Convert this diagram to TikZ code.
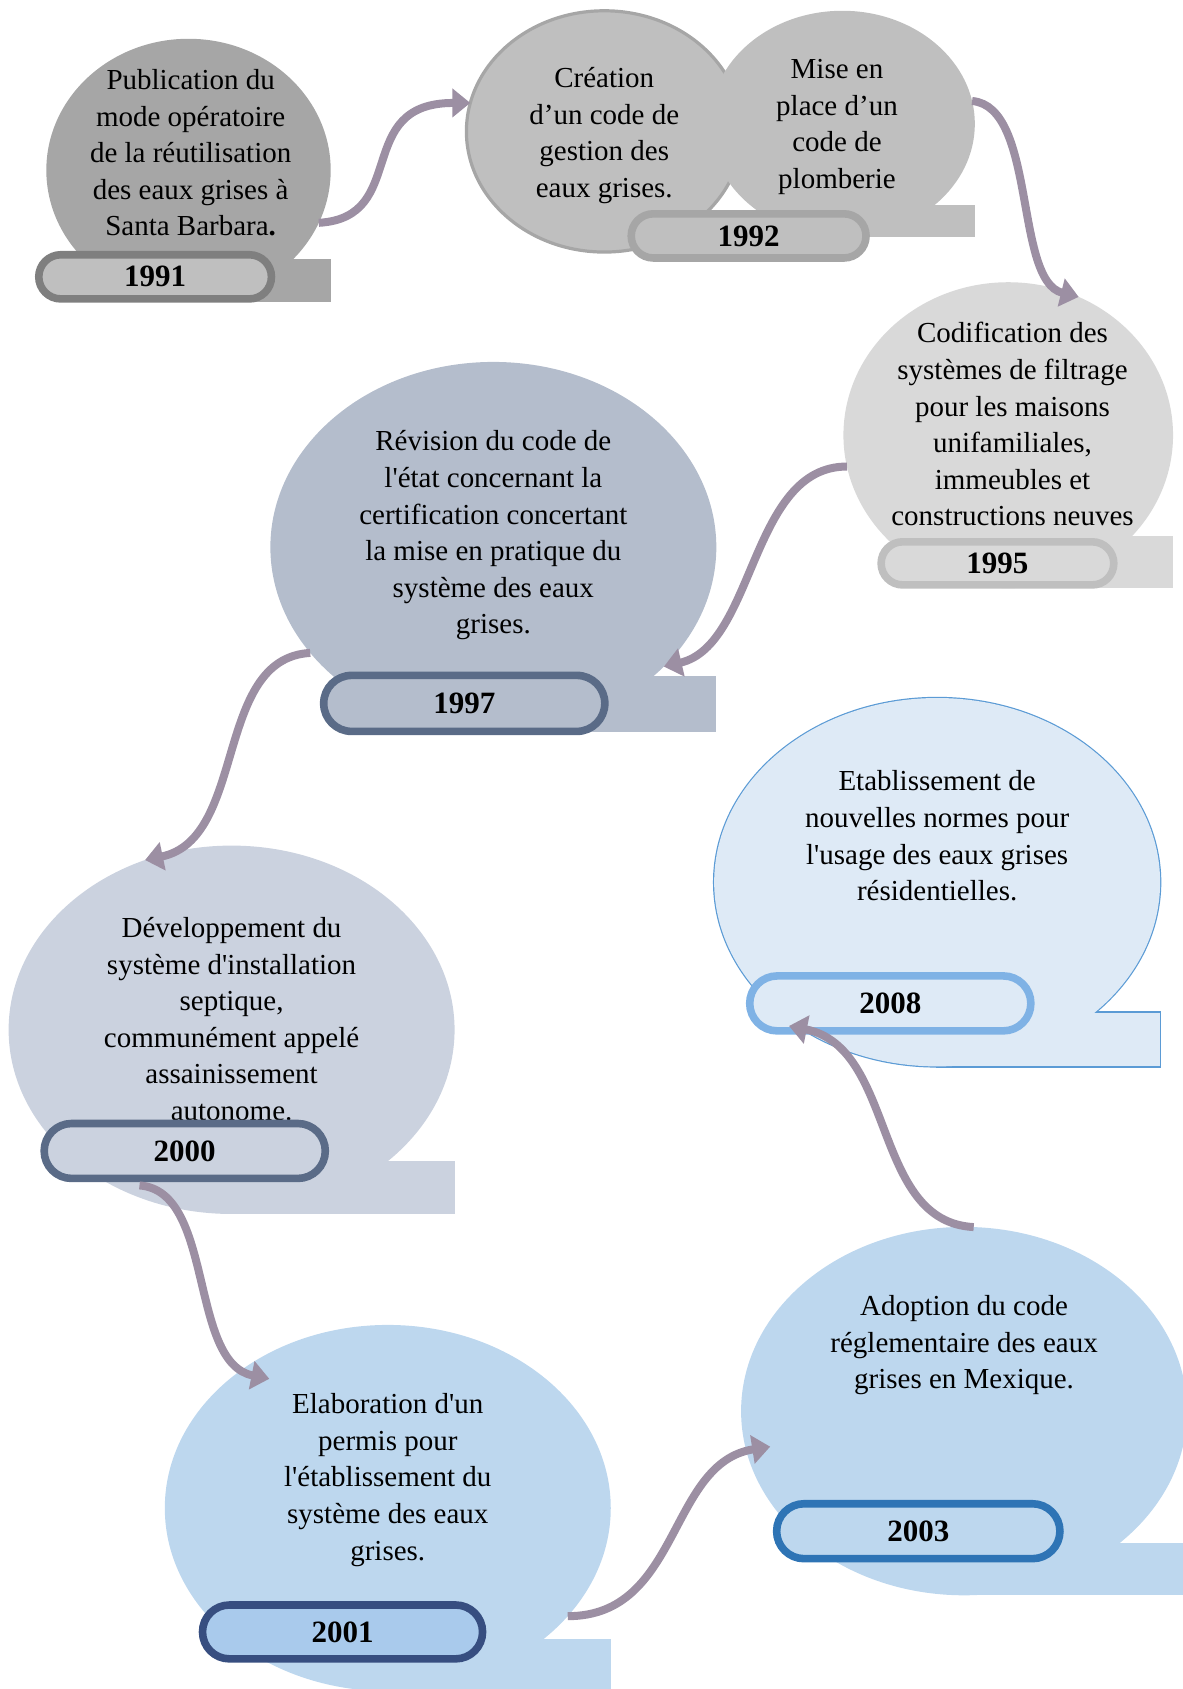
\documentclass[tikz,border=0pt]{standalone}
\usepackage{fontspec}
\setmainfont{Liberation Serif}
\usepackage{tikz}
\usetikzlibrary{arrows.meta, positioning, shapes.geometric, shapes.misc}
\definecolor{cgray}{HTML}{7F7F7F}
\definecolor{cgdark}{HTML}{A6A6A6}
\definecolor{cgmid}{HTML}{BFBFBF}
\definecolor{cglight}{HTML}{D9D9D9}
\definecolor{cslate}{HTML}{B4BDCC}
\definecolor{cslatel}{HTML}{CBD2DF}
\definecolor{cslated}{HTML}{5A6B87}
\definecolor{cblue}{HTML}{BDD7EE}
\definecolor{cbluep}{HTML}{A9CAEC}
\definecolor{cnavy}{HTML}{374E80}
\definecolor{cbluedk}{HTML}{2E74B5}
\definecolor{cice}{HTML}{DEEAF6}
\definecolor{ciceline}{HTML}{5B9BD5}
\definecolor{cpale}{HTML}{7FB2E5}
\definecolor{carrow}{HTML}{9C8FA3}
\newcommand{\pxu}{0.5387pt}
\newcommand{\sq}{\textquotesingle}

\begin{document}
\begin{tikzpicture}[x=0.5387pt, y=-0.5387pt,
  bubble/.style={ellipse, inner sep=0pt, outer sep=0pt},
  txt/.style={align=center, inner sep=0pt, font=\fontsize{14.5}{18.3}\selectfont},
  year/.style={rounded rectangle, line width=3.8pt, inner sep=0pt, font=\fontsize{15.5}{18}\selectfont\bfseries},
  link/.style={carrow, line width=4pt, -{Triangle[width=14pt,length=9pt]}}]
  \useasboundingbox (0,0) rectangle (1098,1568);
  % bubbles and their tabs
  \foreach \n/\x/\y/\w/\h/\t/\c in {91/175/158/264/244/40/cgdark, 95/936/404/306/284/48/cglight,
      97/458/508/414/344/52/cslate, 00/215/956/414/342/49/cslatel,
      01/360/1400/414/340/48/cblue, 03/895/1310/414/342/49/cblue}{
    \node[bubble, fill=\c, minimum width=\w*\pxu, minimum height=\h*\pxu] (b\n) at (\x,\y) {};
    \fill[\c] (b\n.south) rectangle ++(\w/2,-\t);
  }
  \node[bubble, fill=cgmid, draw=cgdark, line width=1.6pt, minimum width=256*\pxu, minimum height=224*\pxu] (b92a) at (561,122) {};
  \node[bubble, fill=cgmid, minimum width=246*\pxu, minimum height=210*\pxu] (b92b) at (782,115) {};
  \fill[cgmid] (b92b.south) rectangle ++(123,-30);
  % outlined bubble (2008)
  \node[bubble, draw=ciceline, line width=1.2pt, minimum width=414*\pxu, minimum height=342*\pxu] (b08) at (870,819) {};
  \draw[ciceline, line width=1.2pt, fill=cice] (b08.south) rectangle ++(207,-50);
  \node[bubble, fill=cice, minimum width=414*\pxu, minimum height=342*\pxu] (b08f) at (b08.center) {};
  \fill[cice] (b08.south) rectangle ++(207,-50);

  % texts
  \node[txt] (t91) at (177,142) {Publication du\\mode opératoire\\de la réutilisation\\des eaux grises à\\Santa Barbara\textbf{.}};
  \node[txt] (t92a) at (561,126) {Création\\d’un code de\\gestion des\\eaux grises.};
  \node[txt] (t92b) at (777,118) {Mise en\\place d’un\\code de\\plomberie};
  \node[txt] (t95) at (940,394) {Codification des\\systèmes de filtrage\\pour les maisons\\unifamiliales,\\immeubles et\\constructions neuves};
  \node[txt] (t97) at (458,497) {Révision du code de\\l\sq état concernant la\\certification concertant\\la mise en pratique du\\système des eaux\\grises.};
  \node[txt] (t00) at (215,946) {Développement du\\système d\sq installation\\septique,\\communément appelé\\assainissement\\autonome.};
  \node[txt] (t01) at (360,1374) {Elaboration d\sq un\\permis pour\\l\sq établissement du\\système des eaux\\grises.};
  \node[txt] (t03) at (895,1249) {Adoption du code\\réglementaire des eaux\\grises en Mexique.};
  \node[txt] (t08) at (870,776) {Etablissement de\\nouvelles normes pour\\l\sq usage des eaux grises\\résidentielles.};

  % year pills
  \foreach \n/\x/\y/\w/\h/\d/\f/\yr in {91/144/257/216/41/cgray/cgmid/1991, 92/695/219/218/41/cgdark/cgmid/1992,
      95/926/523/216/40/cgmid/cglight/1995, 97/431/653/261/52/cslated/cslate/1997,
      00/171.5/1068.5/261/51/cslated/cslatel/2000, 01/318/1515/260/50/cnavy/cbluep/2001,
      03/852.5/1421.5/263/51/cbluedk/cblue/2003, 08/826.5/931.5/261/51/cpale/cice/2008}{
    \node[year, draw=\d, fill=\f, minimum width=\w*\pxu, minimum height=\h*\pxu] (p\n) at (\x,\y) {\yr};
  }

  % connectors
  \coordinate (s00) at ([shift={(-42,32)}]p00.center);
  \coordinate (e01) at ([shift={(-110,-120)}]b01.center);
  \coordinate (e03) at ([shift={(-180,33)}]b03.center);
  \coordinate (e08) at ([shift={(-94,21)}]p08.center);
  \draw[link] (b91.-22) .. controls +(85,-5) and +(-110,0) .. (b92a.168);
  \draw[link] (b92b.10) .. controls +(60,5) and +(-60,-15) .. (b95.63);
  \draw[link] (b95.191) .. controls +(-90,0) and +(85,-20) .. (b97.-35);
  \draw[link] (b97.210) .. controls +(-90,5) and +(95,-20) .. (b00.117);
  \draw[link] (s00) .. controls +(70,5) and +(-75,-15) .. (e01);
  \draw[link] (b01.-31) .. controls +(105,0) and +(-95,15) .. (e03);
  \draw[link] (b03.87) .. controls +(-95,-5) and +(100,20) .. (e08);
\end{tikzpicture}
\end{document}
